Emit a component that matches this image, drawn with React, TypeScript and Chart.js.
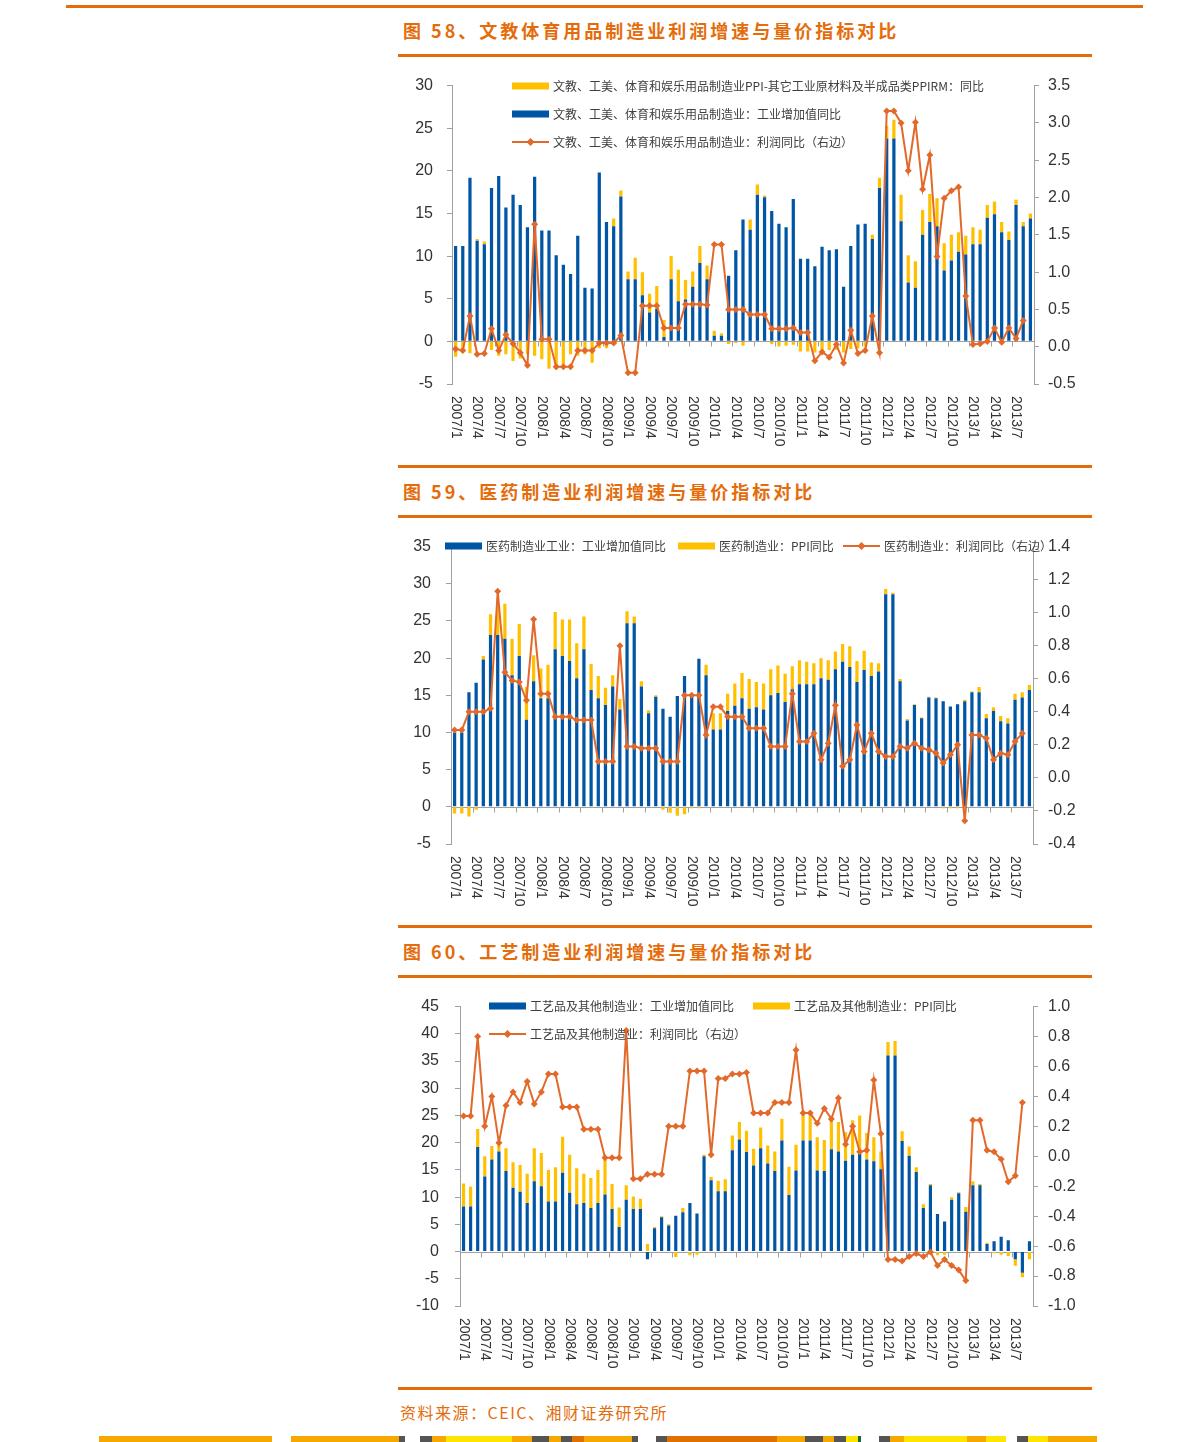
import React, { useEffect, useRef } from 'react';
import { Chart, registerables } from 'chart.js';

Chart.register(...registerables);
Chart.defaults.font.family = '"Liberation Sans", Arial, sans-serif';

const BLUE = '#0055A5';
const YELLOW = '#FFC000';
const ORANGE = '#E46C0A';
const LINE_ORANGE = '#E2692A';
const AXIS = '#A0A0A0';
const TEXT = '#333333';
const LEGEND_TEXT = '#404040';

const months = [
  '2007/1', '2007/2', '2007/3', '2007/4', '2007/5', '2007/6', '2007/7', '2007/8', '2007/9', '2007/10', '2007/11', '2007/12',
  '2008/1', '2008/2', '2008/3', '2008/4', '2008/5', '2008/6', '2008/7', '2008/8', '2008/9', '2008/10', '2008/11', '2008/12',
  '2009/1', '2009/2', '2009/3', '2009/4', '2009/5', '2009/6', '2009/7', '2009/8', '2009/9', '2009/10', '2009/11', '2009/12',
  '2010/1', '2010/2', '2010/3', '2010/4', '2010/5', '2010/6', '2010/7', '2010/8', '2010/9', '2010/10', '2010/11', '2010/12',
  '2011/1', '2011/2', '2011/3', '2011/4', '2011/5', '2011/6', '2011/7', '2011/8', '2011/9', '2011/10', '2011/11', '2011/12',
  '2012/1', '2012/2', '2012/3', '2012/4', '2012/5', '2012/6', '2012/7', '2012/8', '2012/9', '2012/10', '2012/11', '2012/12',
  '2013/1', '2013/2', '2013/3', '2013/4', '2013/5', '2013/6', '2013/7', '2013/8', '2013/9',
];

// ---- Figure 58: 文教体育用品 ----
const wenjiaoValueAdded = [
  11.2, 11.2, 19.2, 11.8, 11.4, 18.0, 19.4, 15.7, 17.2, 16.0,
  13.4, 19.3, 13.0, 13.0, 10.1, 9.0, 7.9, 12.4, 6.3, 6.2,
  19.8, 14.0, 13.5, 17.0, 7.3, 7.3, 5.4, 3.4, 3.8, 0.5,
  7.3, 4.7, 4.9, 6.4, 9.2, 7.3, 0.65, 0.65, 7.7, 10.7,
  14.3, 13.1, 17.2, 16.9, 15.3, 13.8, 13.4, 16.7, 9.7, 9.7,
  8.8, 11.1, 10.7, 10.8, 6.4, 11.2, 13.7, 13.8, 12.0, 18.0,
  23.8, 23.8, 14.1, 6.9, 6.3, 12.5, 14.0, 13.5, 8.3, 9.5,
  10.5, 10.2, 11.4, 11.4, 14.5, 14.9, 12.8, 11.9, 16.0, 13.5,
  14.4,
];
const wenjiaoPriceGap = [
  -1.8, -1.0, -1.4, 0.2, 0.3, -1.0, -1.7, -1.5, -2.3, -2.0,
  -1.5, -1.7, -2.1, -3.2, -3.3, -2.7, -1.5, -1.7, -1.5, -2.5,
  -0.8, -0.8, 0.9, 0.7, 0.9, 2.5, 2.7, 2.2, 2.7, 2.0,
  2.7, 3.7, 2.3, 1.8, 2.0, 1.6, 0.6, 0.3, -0.3, -0.2,
  -0.5, 1.2, 1.2, 0.2, -0.3, -0.6, -0.5, -0.4, -1.2, -1.2,
  -1.3, -1.2, -1.0, -1.0, -1.3, -0.9, -0.8, -0.6, 0.5, 1.2,
  1.5, 2.2, 3.1, 3.2, 3.1, 2.9, 3.3, 3.3, 3.2, 3.0,
  2.3, 2.2, 2.0, 1.7, 1.5, 1.5, 1.2, 1.0, 0.6, 0.5,
  0.6,
];
const wenjiaoProfit = [
  -0.03, -0.05, 0.41, -0.10, -0.09, 0.24, -0.05, 0.16, 0.04, -0.08,
  -0.25, 1.64, 0.10, 0.10, -0.27, -0.27, -0.27, -0.05, -0.05, -0.05,
  0.05, 0.05, 0.05, 0.15, -0.35, -0.35, 0.55, 0.55, 0.55, 0.25,
  0.25, 0.25, 0.57, 0.57, 0.57, 0.56, 1.37, 1.37, 0.50, 0.50,
  0.50, 0.43, 0.43, 0.43, 0.24, 0.24, 0.24, 0.25, 0.19, 0.19,
  -0.19, -0.07, -0.14, 0.03, -0.22, 0.22, -0.09, -0.05, 0.41, -0.08,
  3.16, 3.16, 3.00, 2.36, 3.01, 2.11, 2.57, 1.21, 1.99, 2.09,
  2.14, 0.68, 0.03, 0.04, 0.07, 0.25, 0.06, 0.25, 0.11, 0.35,
  null,
];

// ---- Figure 59: 医药 ----
const yiyaoValueAdded = [
  10.0, 10.0, 15.4, 16.7, 19.8, 23.1, 23.1, 22.6, 17.7, 20.3,
  11.7, 16.9, 14.6, 14.6, 21.2, 20.3, 19.6, 17.3, 21.2, 15.7,
  14.6, 13.7, 16.2, 13.1, 24.7, 24.7, 16.2, 12.6, 14.8, 13.2,
  12.1, 14.9, 17.6, 14.8, 19.9, 17.7, 10.4, 10.4, 12.9, 13.6,
  14.6, 13.2, 13.4, 13.1, 15.0, 15.3, 14.1, 15.8, 16.5, 16.5,
  16.5, 17.3, 17.1, 18.5, 19.5, 18.8, 16.8, 18.4, 17.6, 18.2,
  28.6, 28.6, 16.9, 11.6, 13.7, 11.9, 14.7, 14.6, 14.2, 13.5,
  13.8, 14.2, 15.4, 15.4, 11.9, 12.9, 11.5, 11.2, 14.4, 14.7,
  15.7,
];
const yiyaoPPI = [
  -0.9, -0.9, -1.3, -0.4, 0.5, 2.8, 3.8, 4.7, 4.9, 4.3,
  4.4, 3.5, 4.0, 4.5, 5.0, 4.9, 5.6, 4.7, 4.4, 3.5,
  3.0, 2.3, 1.5, 1.4, 1.6, 0.9, 0.7, 0.4, 0.2, -0.4,
  -0.8, -1.2, -1.0, -0.2, -0.2, 1.4, 2.2, 2.2, 2.3, 3.0,
  3.4, 4.0, 3.4, 3.5, 3.5, 3.7, 3.8, 3.1, 3.2, 3.0,
  2.8, 2.7, 2.6, 2.4, 2.4, 2.8, 2.8, 2.6, 1.8, 1.1,
  0.7, 0.2, 0.3, 0.2, 0.1, 0.1, 0.1, 0.1, -0.2, -0.2,
  -0.2, 0.2, 0.1, 0.7, 0.6, 0.5, 0.7, 0.7, 0.8, 0.7,
  0.7,
];
const yiyaoProfit = [
  0.29, 0.29, 0.40, 0.40, 0.40, 0.42, 1.13, 0.64, 0.59, 0.58,
  0.47, 0.96, 0.51, 0.51, 0.37, 0.37, 0.37, 0.35, 0.35, 0.35,
  0.10, 0.10, 0.10, 0.80, 0.19, 0.19, 0.18, 0.18, 0.18, 0.10,
  0.10, 0.10, 0.50, 0.50, 0.50, 0.26, 0.43, 0.43, 0.37, 0.37,
  0.37, 0.30, 0.30, 0.30, 0.19, 0.19, 0.19, 0.51, 0.22, 0.22,
  0.27, 0.11, 0.21, 0.44, 0.07, 0.11, 0.32, 0.16, 0.27, 0.16,
  0.13, 0.13, 0.19, 0.18, 0.21, 0.18, 0.17, 0.15, 0.09, 0.14,
  0.20, -0.26, 0.26, 0.26, 0.24, 0.11, 0.15, 0.14, 0.22, 0.27,
  null,
];

// ---- Figure 60: 工艺 ----
const gongyiValueAdded = [
  8.3, 8.3, 19.2, 13.8, 16.9, 18.4, 14.8, 11.7, 11.0, 8.9,
  12.9, 12.0, 9.2, 9.2, 14.5, 10.8, 8.7, 8.9, 8.0, 8.9,
  10.5, 7.8, 4.5, 9.5, 7.8, 7.8, -1.4, 4.3, 6.3, 4.8,
  6.6, 7.2, 8.9, 7.0, 17.5, 13.1, 11.1, 11.1, 18.6, 20.6,
  18.3, 15.8, 19.0, 16.2, 14.8, 20.4, 10.4, 14.9, 20.4, 20.4,
  14.9, 14.8, 18.8, 18.4, 16.7, 17.8, 18.0, 16.9, 16.6, 15.1,
  36.0, 36.0, 20.3, 17.6, 14.6, 8.0, 12.2, 6.9, 5.5, 9.5,
  10.7, 7.3, 12.2, 12.2, 1.4, 1.9, 2.7, 2.1, -1.4, -3.9,
  1.9,
];
const gongyiPPI = [
  4.2, 3.6, 3.3, 3.7, 2.5, 1.4, 4.2, 4.7, 4.9, 5.4,
  6.1, 6.1, 5.8, 6.3, 6.6, 7.0, 6.6, 5.4, 5.5, 6.1,
  6.3, 4.6, 3.6, 2.7, 2.3, 1.9, 1.4, 0.2, 0.2, 0.2,
  -1.0, 0.8, -0.7, -0.6, 0.3, 0.6, 1.9, 2.2, 2.7, 3.2,
  3.9, 3.1, 3.8, 3.3, 3.6, 4.0, 5.2, 4.7, 4.9, 4.6,
  6.1, 5.7, 5.6, 5.4, 5.2, 6.3, 7.0, 4.9, 4.4, 3.3,
  2.5, 2.7, 1.8, 1.7, 0.9, 0.7, 0.2, -0.7, -0.6, 0.5,
  0.2, 0.9, 0.7, 0.2, 0.2, -0.3, -0.6, -0.8, -1.2, -0.8,
  -1.4,
];
const gongyiProfit = [
  0.27, 0.27, 0.80, 0.20, 0.40, 0.09, 0.34, 0.43, 0.36, 0.50,
  0.35, 0.43, 0.55, 0.55, 0.33, 0.33, 0.33, 0.18, 0.18, 0.18,
  -0.01, -0.01, -0.01, 0.84, -0.15, -0.15, -0.12, -0.12, -0.12, 0.20,
  0.20, 0.20, 0.57, 0.57, 0.57, 0.01, 0.52, 0.52, 0.55, 0.55,
  0.56, 0.29, 0.29, 0.29, 0.36, 0.36, 0.36, 0.71, 0.29, 0.29,
  0.22, 0.32, 0.25, 0.39, 0.08, 0.20, 0.03, 0.04, 0.51, 0.15,
  -0.69, -0.69, -0.70, -0.67, -0.65, -0.67, -0.64, -0.73, -0.69, -0.73,
  -0.76, -0.83, 0.24, 0.24, 0.04, 0.03, -0.02, -0.17, -0.13, 0.36,
  null,
];

type LegendItem = { kind: 'bar' | 'line'; color: string; x: number; y: number; text: string };

type Spec = {
  id: string;
  blue: number[];
  yellow: number[];
  line: (number | null)[];
  names: [string, string, string];
  yMin: number; yMax: number; yStep: number;
  y1Min: number; y1Max: number; y1Step: number;
  leftW: number; rightW: number; bottomH: number; topPad: number;
  leftPad: number; rightPad: number;
  legend: LegendItem[];
};

const fmt1 = (v: number) => (Math.abs(v) < 1e-9 ? 0 : v).toFixed(1);

function buildConfig(s: Spec): any {
  const plugin = {
    id: 'custom_' + s.id,
    beforeDatasetsDraw(chart: any) {
      const { ctx, chartArea, scales } = chart;
      const xs = scales.x;
      const ys = scales.y;
      const y0 = Math.round(ys.getPixelForValue(0)) + 0.5;
      const half = (xs.getPixelForValue(1) - xs.getPixelForValue(0)) / 2;
      ctx.save();
      ctx.strokeStyle = AXIS;
      ctx.lineWidth = 1;
      ctx.beginPath();
      ctx.moveTo(chartArea.left, y0);
      ctx.lineTo(chartArea.right, y0);
      for (let k = 3; k < months.length; k += 3) {
        const px = Math.round(xs.getPixelForValue(k) - half) + 0.5;
        ctx.moveTo(px, y0);
        ctx.lineTo(px, y0 + 5);
      }
      ctx.stroke();
      ctx.restore();
    },
    afterDraw(chart: any) {
      const { ctx, chartArea, scales } = chart;
      const xs = scales.x;
      ctx.save();
      ctx.fillStyle = TEXT;
      ctx.font = '14px "Liberation Sans", Arial, sans-serif';
      ctx.textAlign = 'left';
      ctx.textBaseline = 'middle';
      for (let i = 0; i < months.length; i += 3) {
        const px = xs.getPixelForValue(i);
        ctx.save();
        ctx.translate(px, chartArea.bottom + 12);
        ctx.rotate(Math.PI / 2);
        ctx.fillText(months[i], 0, 0);
        ctx.restore();
      }
      ctx.font = '12px "Noto Sans CJK SC", sans-serif';
      for (const it of s.legend) {
        if (it.kind === 'bar') {
          ctx.fillStyle = it.color;
          ctx.fillRect(it.x, it.y - 3.5, 37, 7);
        } else {
          ctx.strokeStyle = it.color;
          ctx.lineWidth = 2;
          ctx.beginPath();
          ctx.moveTo(it.x, it.y);
          ctx.lineTo(it.x + 37, it.y);
          ctx.stroke();
          const cx = it.x + 18.5;
          ctx.fillStyle = it.color;
          ctx.beginPath();
          ctx.moveTo(cx, it.y - 4);
          ctx.lineTo(cx + 4, it.y);
          ctx.lineTo(cx, it.y + 4);
          ctx.lineTo(cx - 4, it.y);
          ctx.closePath();
          ctx.fill();
        }
        ctx.fillStyle = LEGEND_TEXT;
        ctx.fillText(it.text, it.x + 41, it.y + 0.5);
      }
      ctx.restore();
    },
  };

  const barCommon = { barPercentage: 0.45, categoryPercentage: 1, borderWidth: 0, yAxisID: 'y' };

  return {
    type: 'bar',
    data: {
      labels: months,
      datasets: [
        {
          type: 'line',
          label: s.names[2],
          data: s.line,
          yAxisID: 'y1',
          borderColor: LINE_ORANGE,
          backgroundColor: LINE_ORANGE,
          borderWidth: 2,
          pointStyle: 'rectRot',
          pointRadius: 3.5,
          pointBorderWidth: 0,
          pointBackgroundColor: LINE_ORANGE,
          tension: 0,
          clip: false,
        },
        { type: 'bar', label: s.names[0], data: s.blue, backgroundColor: BLUE, ...barCommon },
        { type: 'bar', label: s.names[1], data: s.yellow, backgroundColor: YELLOW, ...barCommon },
      ],
    },
    options: {
      responsive: false,
      animation: false,
      events: [],
      layout: { padding: { top: s.topPad, left: 0, right: 0, bottom: 0 } },
      plugins: { legend: { display: false }, tooltip: { enabled: false }, title: { display: false } },
      scales: {
        x: {
          stacked: true,
          offset: true,
          grid: { display: false },
          border: { display: false },
          ticks: { display: false },
          afterFit: (sc: any) => { sc.height = s.bottomH; },
        },
        y: {
          position: 'left',
          stacked: true,
          min: s.yMin,
          max: s.yMax,
          ticks: {
            stepSize: s.yStep,
            padding: s.leftPad,
            color: TEXT,
            font: { size: 16 },
            autoSkip: false,
            callback: (v: any) => String(Math.round(Number(v))),
          },
          grid: { display: true, drawOnChartArea: false, drawTicks: true, tickLength: 5, color: AXIS },
          border: { display: true, color: AXIS },
          afterFit: (sc: any) => { sc.width = s.leftW; },
        },
        y1: {
          position: 'right',
          min: s.y1Min,
          max: s.y1Max,
          ticks: {
            stepSize: s.y1Step,
            padding: s.rightPad,
            color: TEXT,
            font: { size: 16 },
            autoSkip: false,
            callback: (v: any) => fmt1(Number(v)),
          },
          grid: { display: true, drawOnChartArea: false, drawTicks: true, tickLength: 5, color: AXIS },
          border: { display: true, color: AXIS },
          afterFit: (sc: any) => { sc.width = s.rightW; },
        },
      },
    },
    plugins: [plugin],
  };
}

const spec58: Spec = {
  id: 'f58',
  blue: wenjiaoValueAdded,
  yellow: wenjiaoPriceGap,
  line: wenjiaoProfit,
  names: [
    '文教、工美、体育和娱乐用品制造业：工业增加值同比',
    '文教、工美、体育和娱乐用品制造业PPI-其它工业原材料及半成品类PPIRM：同比',
    '文教、工美、体育和娱乐用品制造业：利润同比（右边）',
  ],
  yMin: -5, yMax: 30, yStep: 5,
  y1Min: -0.5, y1Max: 3.5, y1Step: 0.5,
  leftW: 54, rightW: 64, bottomH: 68, topPad: 20,
  leftPad: 14, rightPad: 9,
  legend: [
    { kind: 'bar', color: YELLOW, x: 114, y: 24, text: '文教、工美、体育和娱乐用品制造业PPI-其它工业原材料及半成品类PPIRM：同比' },
    { kind: 'bar', color: BLUE, x: 114, y: 52, text: '文教、工美、体育和娱乐用品制造业：工业增加值同比' },
    { kind: 'line', color: LINE_ORANGE, x: 114, y: 80, text: '文教、工美、体育和娱乐用品制造业：利润同比（右边）' },
  ],
};

const spec59: Spec = {
  id: 'f59',
  blue: yiyaoValueAdded,
  yellow: yiyaoPPI,
  line: yiyaoProfit,
  names: ['医药制造业工业：工业增加值同比', '医药制造业：PPI同比', '医药制造业：利润同比（右边）'],
  yMin: -5, yMax: 35, yStep: 5,
  y1Min: -0.4, y1Max: 1.4, y1Step: 0.2,
  leftW: 53, rightW: 65, bottomH: 68, topPad: 20,
  leftPad: 15, rightPad: 10,
  legend: [
    { kind: 'bar', color: BLUE, x: 47, y: 24, text: '医药制造业工业：工业增加值同比' },
    { kind: 'bar', color: YELLOW, x: 280, y: 24, text: '医药制造业：PPI同比' },
    { kind: 'line', color: LINE_ORANGE, x: 445, y: 24, text: '医药制造业：利润同比（右边）' },
  ],
};

const spec60: Spec = {
  id: 'f60',
  blue: gongyiValueAdded,
  yellow: gongyiPPI,
  line: gongyiProfit,
  names: ['工艺品及其他制造业：工业增加值同比', '工艺品及其他制造业：PPI同比', '工艺品及其他制造业：利润同比（右边）'],
  yMin: -10, yMax: 45, yStep: 5,
  y1Min: -1, y1Max: 1, y1Step: 0.2,
  leftW: 62, rightW: 65, bottomH: 75, topPad: 20,
  leftPad: 16, rightPad: 10,
  legend: [
    { kind: 'bar', color: BLUE, x: 91, y: 25, text: '工艺品及其他制造业：工业增加值同比' },
    { kind: 'bar', color: YELLOW, x: 355, y: 25, text: '工艺品及其他制造业：PPI同比' },
    { kind: 'line', color: LINE_ORANGE, x: 91, y: 53, text: '工艺品及其他制造业：利润同比（右边）' },
  ],
};

function ChartBox(props: { spec: Spec; left: number; top: number; width: number; height: number }) {
  const ref = useRef<HTMLCanvasElement | null>(null);
  useEffect(() => {
    if (!ref.current) return;
    const chart = new Chart(ref.current, buildConfig(props.spec));
    return () => chart.destroy();
  }, []);
  return (
    <canvas
      ref={ref}
      width={props.width}
      height={props.height}
      style={{ position: 'absolute', left: props.left, top: props.top, width: props.width, height: props.height }}
    />
  );
}

const stripe: [number, number, string][] = [
  [99, 272, '#F5A800'], [291, 399, '#F5A800'], [399, 405, '#555555'],
  [420, 432, '#555555'], [432, 446, '#F5A800'], [446, 512, '#FFE600'], [512, 532, '#F5A800'],
  [532, 549, '#555555'], [549, 561, '#F5A800'], [561, 572, '#555555'], [572, 584, '#E07000'],
  [584, 632, '#F5A800'], [632, 638, '#555555'], [656, 667, '#555555'], [667, 777, '#E07000'],
  [777, 805, '#F5A800'], [805, 823, '#555555'], [823, 834, '#F5A800'], [834, 846, '#555555'],
  [846, 858, '#FFE600'], [858, 861, '#1B6B3A'], [879, 890, '#555555'], [890, 904, '#F5A800'],
  [904, 967, '#FFE600'], [967, 986, '#F5A800'], [986, 1006, '#FFE600'], [1017, 1028, '#555555'],
  [1028, 1048, '#FFE600'], [1048, 1097, '#F5A800'],
];

const hr = (left: number, top: number, width: number, height = 3) => (
  <div style={{ position: 'absolute', left, top, width, height, background: ORANGE }} />
);

const titleStyle: React.CSSProperties = {
  position: 'absolute',
  left: 403,
  color: ORANGE,
  fontFamily: '"Noto Sans CJK SC", sans-serif',
  fontWeight: 700,
  fontSize: 18,
  letterSpacing: 3,
  lineHeight: '24px',
  whiteSpace: 'nowrap',
};

export default function App() {
  return (
    <div style={{ position: 'absolute', left: 0, top: 0, width: 1191, height: 1442, background: '#fff', overflow: 'hidden' }}>
      {hr(66, 5, 1077, 3)}
      <div style={{ ...titleStyle, top: 18 }}>图 58、文教体育用品制造业利润增速与量价指标对比</div>
      {hr(398, 54, 694)}
      <ChartBox spec={spec58} left={398} top={62} width={700} height={390} />

      {hr(398, 465, 694)}
      <div style={{ ...titleStyle, top: 479 }}>图 59、医药制造业利润增速与量价指标对比</div>
      {hr(398, 515, 694)}
      <ChartBox spec={spec59} left={398} top={522} width={700} height={390} />

      {hr(398, 925, 694)}
      <div style={{ ...titleStyle, top: 939 }}>图 60、工艺制造业利润增速与量价指标对比</div>
      {hr(398, 975, 694)}
      <ChartBox spec={spec60} left={398} top={981} width={700} height={400} />

      {hr(398, 1387, 694)}
      <div
        style={{
          position: 'absolute',
          left: 400,
          top: 1401,
          color: ORANGE,
          fontFamily: '"Noto Sans CJK SC", sans-serif',
          fontSize: 16,
          letterSpacing: 1.5,
          lineHeight: '22px',
          whiteSpace: 'nowrap',
        }}
      >
        资料来源：CEIC、湘财证券研究所
      </div>
      {stripe.map(([a, b, c], i) => (
        <div key={i} style={{ position: 'absolute', left: a, top: 1436, width: b - a, height: 6, background: c }} />
      ))}
    </div>
  );
}
